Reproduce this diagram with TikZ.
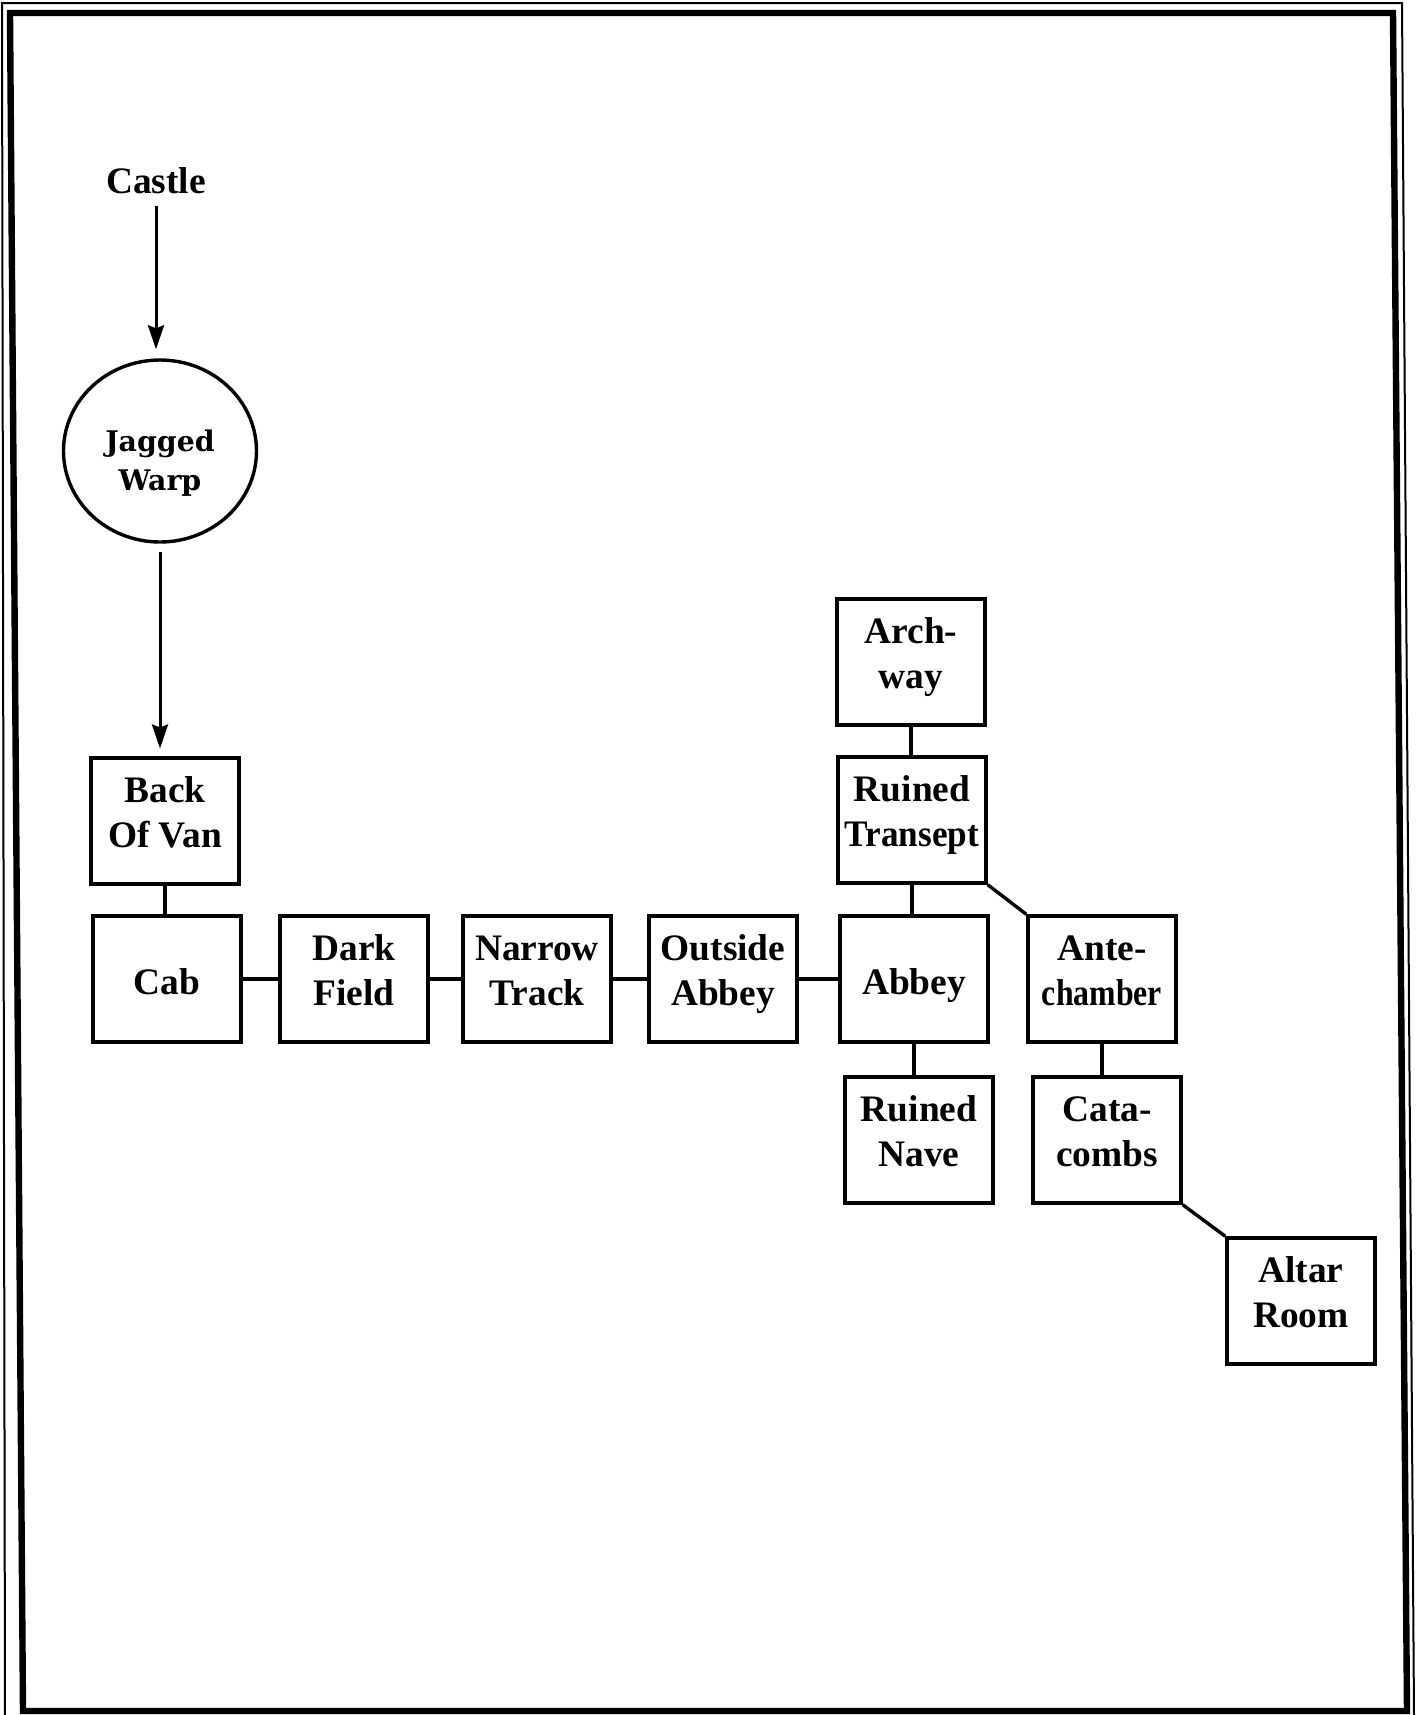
\documentclass[tikz,border=0pt]{standalone}
\usepackage{fontspec}
\setmainfont{Liberation Serif}
\newfontfamily\warpfont{DejaVu Serif}
\usetikzlibrary{shapes.geometric,arrows.meta}
\newcommand\twoL[2]{\raisebox{0pt}[0pt][19pt]{\begin{tabular}[t]{@{}c@{}}#1\\#2\end{tabular}}}
\newcommand\oneL[1]{\raisebox{0pt}[15.7pt][0pt]{#1}}
\newcommand\warpL[2]{\raisebox{0pt}[0pt][0pt]{\begin{tabular}[t]{@{}c@{}}#1\\#2\end{tabular}}}
\begin{document}
\begin{tikzpicture}[x=0.5pt,y=-0.5pt,
  txt/.style={font=\fontsize{18.7pt}{22.5pt}\selectfont\bfseries, inner sep=0pt},
  room/.style={txt, draw, line width=1.7pt, minimum width=74pt, minimum height=63pt},
  warp/.style={ellipse, draw, line width=1.7pt, minimum width=96.5pt, minimum height=91pt, inner sep=0pt,
    font=\warpfont\bfseries\fontsize{14.2pt}{19.5pt}\selectfont},
  conn/.style={line width=1.7pt},
  arr/.style={line width=1.5pt, -{Stealth[length=12pt,width=8pt,inset=1.5pt]}}
]
\useasboundingbox (0,0) rectangle (1415,1715);
\fill[white] (0,0) rectangle (1415,1715);
% frame
\draw[line width=3.2pt, line join=miter] (10,13) -- (1393,13) -- (1407,1711) -- (23,1711) -- cycle;
\draw[line width=1pt] (5,1715) -- (2,3) -- (1402,3) -- (1414,1715);

% nodes
\node[txt, anchor=base] (castle) at (156,193.5) {Castle};
\node[warp] (jw) at (160,451) {\warpL{Jagged}{Warp}};
\node[room] (van) at (165,821) {\twoL{Back}{Of Van}};
\node[room] (cab) at (167,979) {\oneL{Cab}};
\node[room] (dark) at (354,979) {\twoL{Dark}{Field}};
\node[room] (narrow) at (537,979) {\twoL{Narrow}{Track}};
\node[room] (outside) at (723,979) {\twoL{Outside}{Abbey}};
\node[room] (abbey) at (914,979) {\oneL{Abbey}};
\node[room] (arch) at (911,662) {\twoL{Arch-}{way}};
\node[room] (transept) at (912,820) {\twoL{Ruined}{\scalebox{0.94}[1]{Transept}}};
\node[room] (ante) at (1102,979) {\twoL{Ante-}{\scalebox{0.85}[1]{chamber}}};
\node[room] (nave) at (919,1140) {\twoL{Ruined}{Nave}};
\node[room] (cata) at (1107,1140) {\twoL{Cata-}{combs}};
\node[room] (altar) at (1301,1301) {\twoL{Altar}{Room}};

% arrows
\draw[arr, shorten <=6pt, shorten >=4.5pt] (castle.south) -- (castle.south |- jw.north);
\draw[arr, shorten <=4.2pt, shorten >=3.9pt] (jw.south) -- (jw.south |- van.north);

% connectors
\draw[conn] (van.south) -- (van.south |- cab.north);
\draw[conn] (cab) -- (dark);
\draw[conn] (dark) -- (narrow);
\draw[conn] (narrow) -- (outside);
\draw[conn] (outside) -- (abbey);
\draw[conn] (arch.south) -- (arch.south |- transept.north);
\draw[conn] (transept.south) -- (transept.south |- abbey.north);
\draw[conn] (abbey.south) -- (abbey.south |- nave.north);
\draw[conn] (transept.south east) -- (ante.north west);
\draw[conn] (ante.south) -- (ante.south |- cata.north);
\draw[conn] (cata.south east) -- (altar.north west);
\end{tikzpicture}
\end{document}
